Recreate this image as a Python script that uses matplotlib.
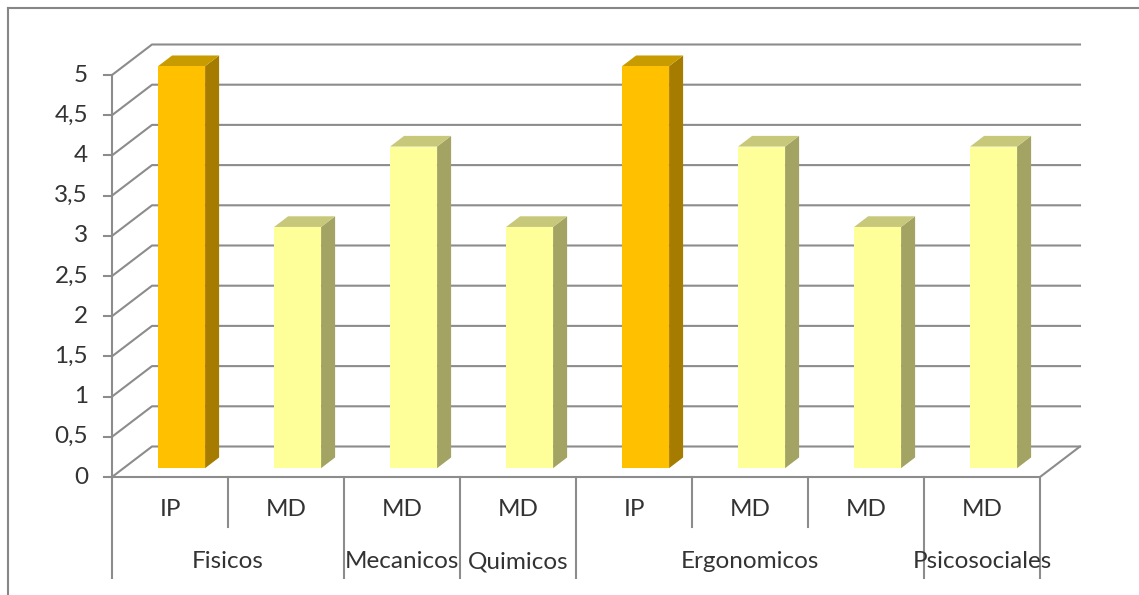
import matplotlib.pyplot as plt
from matplotlib.patches import Polygon
from matplotlib.lines import Line2D

plt.rcParams['font.family'] = ['Lato', 'DejaVu Sans']

# data
levels = ["IP", "MD", "MD", "MD", "IP", "MD", "MD", "MD"]
values = [5, 3, 4, 3, 5, 4, 3, 4]
groups = ["Fisicos", "Mecanicos", "Quimicos", "Ergonomicos", "Psicosociales"]
group_spans = [(0, 2), (2, 3), (3, 4), (4, 7), (7, 8)]
yticks = [0, 0.5, 1, 1.5, 2, 2.5, 3, 3.5, 4, 4.5, 5]

colors = {
    "IP": ("#FFC000", "#A67C00", "#C89B00"),   # front, side, top
    "MD": ("#FFFF99", "#A3A364", "#C8C87A"),
}
grid_col = "#8C8C8C"
text_col = "#333333"
fs = 17.5

W, H = 1139, 595
fig = plt.figure(figsize=(W / 100, H / 100), dpi=100)
ax = fig.add_axes([112 / W, 1 - 477 / H, (1040 - 112) / W, (477 - 75) / H])
n = len(values)
ax.set_xlim(0, n)
ax.set_ylim(0, 5)
ax.axis("off")

# oblique projection: depth 1 == the full floor depth
ox = 40 / 116
oy = 30.5 / 80.4


def proj(x, y, d):
    return (x + d * ox, y + d * oy)


# back wall gridlines + left wall diagonals
for v in yticks:
    xs, ys = zip(proj(0, v, 0), proj(0, v, 1), proj(n, v, 1))
    ax.add_line(Line2D(xs, ys, color=grid_col, lw=1.5, clip_on=False, zorder=1))
    ax.add_line(Line2D([-8 / 116, 0], [v, v], color=grid_col, lw=1.5, clip_on=False, zorder=1))
    ax.text(-24 / 116, v, str(v).replace(".", ",").replace(",0", ""), ha="right", va="center",
            fontsize=fs, color=text_col)

# vertical axis and floor
ax.add_line(Line2D([0, 0], [0, 5], color=grid_col, lw=1.5, clip_on=False, zorder=2))
xs, ys = zip(proj(0, 0, 0), proj(n, 0, 0), proj(n, 0, 1))
ax.add_line(Line2D(xs, ys, color=grid_col, lw=1.5, clip_on=False, zorder=2))

# bars
bw = 47 / 116
d0, d1 = 0.29, 0.64
for i, (lab, v) in enumerate(zip(levels, values)):
    front, side, top = colors[lab]
    x0 = i + 0.5 - bw / 2
    x1 = x0 + bw
    fr = [proj(x0, 0, d0), proj(x1, 0, d0), proj(x1, v, d0), proj(x0, v, d0)]
    sd = [proj(x1, 0, d0), proj(x1, 0, d1), proj(x1, v, d1), proj(x1, v, d0)]
    tp = [proj(x0, v, d0), proj(x1, v, d0), proj(x1, v, d1), proj(x0, v, d1)]
    for pts, c in [(sd, side), (tp, top), (fr, front)]:
        ax.add_patch(Polygon(pts, closed=True, facecolor=c, edgecolor="none",
                             clip_on=False, zorder=3))

# category labels
uy = 5 / 402  # data units per pixel vertically
for i, lab in enumerate(levels):
    ax.text(i + 0.5, -33 * uy, lab, ha="center", va="center", fontsize=fs, color=text_col)

long_lines = set()
for g, (a, b) in zip(groups, group_spans):
    ax.text((a + b) / 2, -85 * uy, g, ha="center", va="center", fontsize=fs, color=text_col)
    long_lines.update([a, b])
for k in range(n + 1):
    bottom = -101 * uy if k in long_lines else -50 * uy
    ax.add_line(Line2D([k, k], [0, bottom], color=grid_col, lw=1.5, clip_on=False, zorder=2))

# outer chart border (left and top edges visible)
fig.add_artist(Line2D([7.5 / W, 7.5 / W], [0, 1 - 8 / H], color="#868686", lw=1.5,
                      transform=fig.transFigure))
fig.add_artist(Line2D([7.5 / W, 1], [1 - 8 / H, 1 - 8 / H], color="#868686", lw=1.5,
                      transform=fig.transFigure))

fig.savefig("out.png", dpi=100)
